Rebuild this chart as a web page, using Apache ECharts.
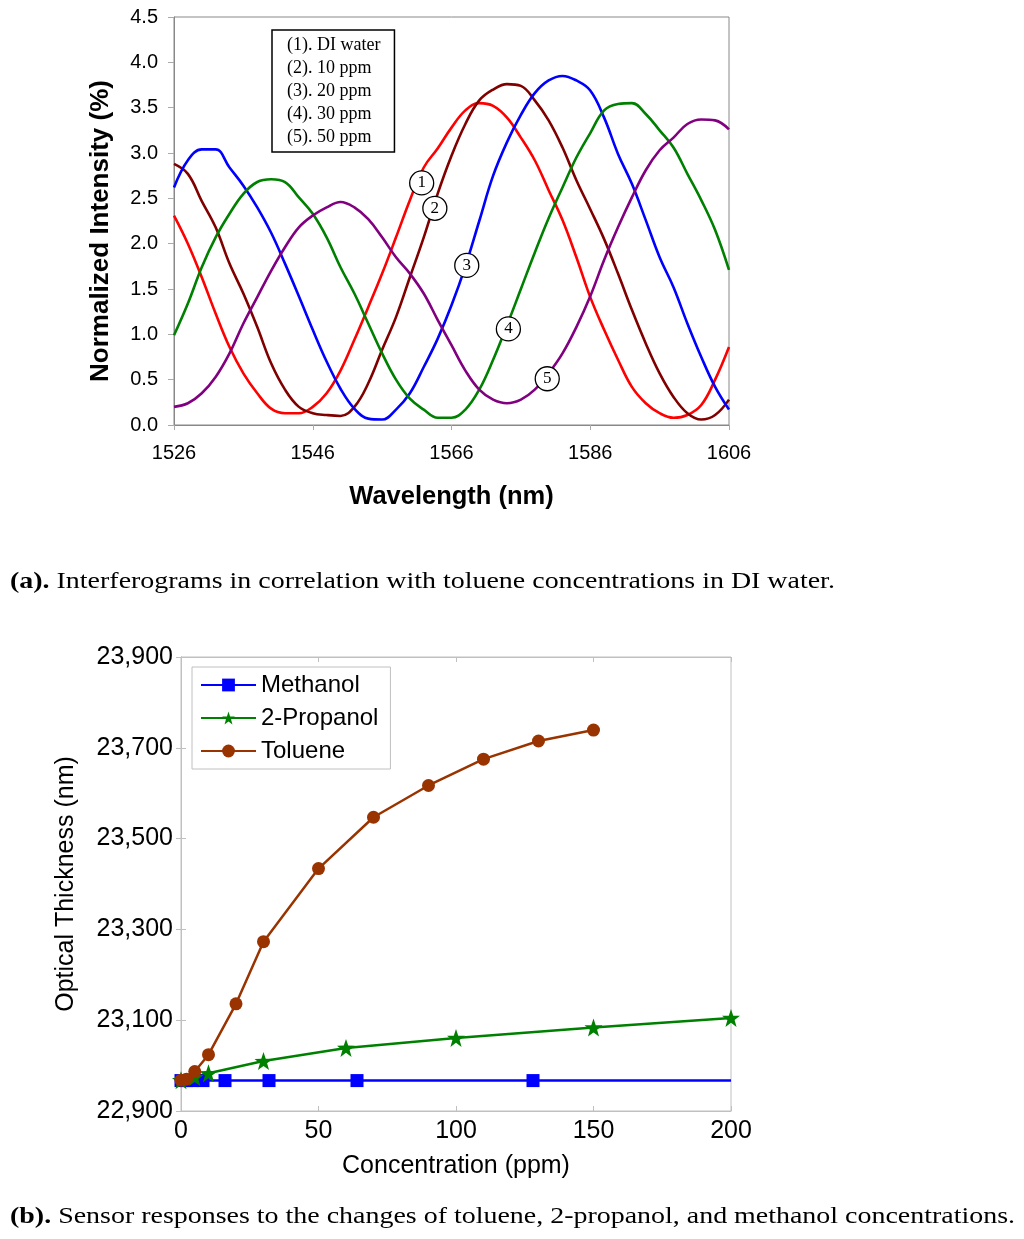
<!DOCTYPE html>
<html>
<head>
<meta charset="utf-8">
<script src="https://cdn.jsdelivr.net/npm/echarts@6/dist/echarts.min.js"></script>
<style>
html,body{margin:0;padding:0;background:#fff;}
#chart{position:absolute;left:0;top:0;width:1024px;height:1239px;}
.cap{position:absolute;left:10px;font-family:"Liberation Serif","Times New Roman",serif;font-size:23px;color:#000;white-space:nowrap;
  transform:scaleX(1.215);transform-origin:0 50%;}
</style>
</head>
<body>
<div id="chart"></div>
<div class="cap" style="top:568px"><b>(a).</b> Interferograms in correlation with toluene concentrations in DI water.</div>
<div class="cap" style="top:1203px"><b>(b).</b> Sensor responses to the changes of toluene, 2-propanol, and methanol concentrations.</div>
<script>
// (a) interferograms, read every 2 nm
var wavelength = [1526,1528,1530,1532,1534,1536,1538,1540,1542,1544,1546,1548,1550,1552,1554,1556,1558,1560,1562,1564,
  1566,1568,1570,1572,1574,1576,1578,1580,1582,1584,1586,1588,1590,1592,1594,1596,1598,1600,1602,1604,1606];
var diWater = [2.31,2.00,1.63,1.23,0.86,0.57,0.35,0.18,0.13,0.13,0.20,0.35,0.60,0.94,1.30,1.67,2.07,2.48,2.84,3.05,
  3.28,3.47,3.55,3.52,3.39,3.17,2.92,2.59,2.26,1.85,1.41,1.05,0.72,0.42,0.24,0.13,0.08,0.11,0.22,0.50,0.86];
var ppm10 = [2.88,2.77,2.47,2.18,1.78,1.45,1.08,0.68,0.39,0.20,0.13,0.11,0.10,0.20,0.46,0.83,1.19,1.63,2.07,2.55,
  2.97,3.32,3.58,3.70,3.76,3.74,3.58,3.36,3.06,2.70,2.38,2.05,1.67,1.27,0.90,0.57,0.31,0.13,0.06,0.11,0.28];
var ppm20 = [2.62,2.92,3.04,3.04,2.84,2.64,2.40,2.12,1.78,1.42,1.05,0.70,0.40,0.18,0.07,0.06,0.17,0.35,0.64,0.95,
  1.32,1.75,2.25,2.75,3.12,3.42,3.66,3.80,3.85,3.80,3.69,3.39,2.99,2.66,2.26,1.85,1.52,1.12,0.75,0.42,0.17];
var ppm30 = [0.99,1.34,1.74,2.07,2.33,2.55,2.68,2.71,2.68,2.51,2.33,2.07,1.74,1.45,1.12,0.79,0.50,0.29,0.17,0.08,
  0.08,0.17,0.39,0.72,1.10,1.50,1.90,2.28,2.62,2.95,3.22,3.47,3.54,3.55,3.43,3.25,3.06,2.77,2.48,2.15,1.71];
var ppm50 = [0.20,0.24,0.35,0.53,0.79,1.12,1.41,1.70,1.96,2.18,2.31,2.40,2.46,2.40,2.27,2.07,1.85,1.67,1.45,1.16,
  0.88,0.60,0.39,0.28,0.24,0.28,0.39,0.57,0.79,1.08,1.42,1.82,2.18,2.51,2.81,3.03,3.17,3.32,3.37,3.36,3.26];
var curveNames = ['(1). DI water','(2). 10 ppm','(3). 20 ppm','(4). 30 ppm','(5). 50 ppm'];
// numbered tags on the curves, in data units [nm, %]
var tagAt = [[1561.7,2.67],[1563.6,2.39],[1568.2,1.76],[1574.2,1.06],[1579.8,0.51]];
var waveTicks = [1526,1546,1566,1586,1606];

// (b) optical thickness vs concentration
var methanolX = [0,2,4,8,16,32,64,128,200];
var methanolY = [22967,22967,22967,22967,22967,22967,22967,22967,22967];
var propanolX = [0,5,10,30,60,100,150,200];
var propanolY = [22968,22975,22983,23010,23039,23061,23084,23105];
var tolueneX = [0,2,5,10,20,30,50,70,90,110,130,150];
var tolueneY = [22968,22970,22987,23024,23136,23273,23434,23547,23617,23675,23715,23739];
var thickTicks = [22900,23100,23300,23500,23700,23900];

var sans = '"Liberation Sans", Arial, sans-serif';
var serif = '"Liberation Serif", "Times New Roman", serif';
var curveColors = ['#ff0000','#800000','#0000ff','#008000','#800080'];
var curves = [diWater, ppm10, ppm20, ppm30, ppm50];
var star = 'path://M0,-10L2.35,-3.24L9.51,-3.09L3.8,1.24L5.88,8.09L0,4L-5.88,8.09L-3.8,1.24L-9.51,-3.09L-2.35,-3.24Z';

function pairs(xs, ys) {
  return xs.map(function (x, i) { return [x, ys[i]]; });
}
function comma(v) {
  return String(v).replace(/\B(?=(\d{3})+(?!\d))/g, ',');
}

var series = curves.map(function (ys, k) {
  return {
    name: curveNames[k],
    type: 'line',
    xAxisIndex: 0, yAxisIndex: 0,
    data: pairs(wavelength, ys),
    showSymbol: false,
    smooth: 0.4,
    lineStyle: { color: curveColors[k], width: 2.6 },
    itemStyle: { color: curveColors[k] },
    markPoint: {
      symbol: 'circle',
      symbolSize: 24,
      itemStyle: { color: '#fff', borderColor: '#000', borderWidth: 1.3 },
      label: { show: true, color: '#000', fontFamily: serif, fontSize: 17, formatter: String(k + 1) },
      data: [{ coord: tagAt[k] }]
    },
    z: 2
  };
});

var methanolData = pairs(methanolX, methanolY);
methanolData[methanolData.length - 1] = { value: methanolData[methanolData.length - 1], symbol: 'none' };

series.push({
  name: 'Methanol', type: 'line', xAxisIndex: 1, yAxisIndex: 1,
  data: methanolData, symbol: 'rect', symbolSize: 13,
  lineStyle: { color: '#0000ff', width: 2.5 }, itemStyle: { color: '#0000ff' }
});
series.push({
  name: '2-Propanol', type: 'line', xAxisIndex: 1, yAxisIndex: 1,
  data: pairs(propanolX, propanolY), symbol: star, symbolSize: 18,
  lineStyle: { color: '#008000', width: 2.5 }, itemStyle: { color: '#008000' }
});
series.push({
  name: 'Toluene', type: 'line', xAxisIndex: 1, yAxisIndex: 1,
  data: pairs(tolueneX, tolueneY), symbol: 'circle', symbolSize: 13,
  lineStyle: { color: '#993300', width: 2.5 }, itemStyle: { color: '#993300' }
});

var myChart = echarts.init(document.getElementById('chart'));
var option = {
  animation: false,
  backgroundColor: '#fff',
  grid: [
    { left: 174, top: 17, width: 555, height: 408, show: true, borderColor: '#888', borderWidth: 1 },
    { left: 181, top: 657, width: 550, height: 454, show: true, borderColor: '#c0c0c0', borderWidth: 1 }
  ],
  legend: [
    {
      data: curveNames, orient: 'vertical', left: 272, top: 30,
      icon: 'none', itemWidth: 0, itemHeight: 18, itemGap: 5,
      padding: [6, 14, 6, 10],
      borderColor: '#000', borderWidth: 1.5,
      textStyle: { fontFamily: serif, fontSize: 18, color: '#000' },
      selectedMode: false
    },
    {
      data: ['Methanol', '2-Propanol', 'Toluene'], orient: 'vertical', left: 192, top: 667,
      itemWidth: 55, itemHeight: 16, itemGap: 9,
      padding: [6, 12, 6, 8],
      borderColor: '#c0c0c0', borderWidth: 1,
      textStyle: { fontFamily: sans, fontSize: 24, color: '#000' },
      selectedMode: false
    }
  ],
  xAxis: [
    {
      gridIndex: 0, type: 'value', min: 1526, max: 1606,
      axisLine: { show: true, lineStyle: { color: '#888' } },
      axisTick: { show: true, length: 5, lineStyle: { color: '#aaa' }, customValues: waveTicks },
      axisLabel: { customValues: waveTicks, margin: 18, fontFamily: sans, fontSize: 20, color: '#000',
        formatter: function (v) { return String(v); } },
      splitLine: { show: false },
      name: 'Wavelength (nm)', nameLocation: 'middle', nameGap: 59,
      nameTextStyle: { fontFamily: sans, fontSize: 25.5, fontWeight: 'bold', color: '#000' }
    },
    {
      gridIndex: 1, type: 'value', min: 0, max: 200, interval: 50,
      axisLine: { show: true, lineStyle: { color: '#c0c0c0' } },
      axisTick: { show: true, inside: true, length: 5, lineStyle: { color: '#c0c0c0' } },
      axisLabel: { margin: 8, fontFamily: sans, fontSize: 25, color: '#000' },
      splitLine: { show: false },
      name: 'Concentration (ppm)', nameLocation: 'middle', nameGap: 43,
      nameTextStyle: { fontFamily: sans, fontSize: 25, color: '#000' }
    },
    {
      gridIndex: 1, type: 'value', min: 0, max: 200, interval: 50, position: 'top',
      axisLine: { show: true, lineStyle: { color: '#c0c0c0' } },
      axisTick: { show: true, inside: true, length: 5, lineStyle: { color: '#c0c0c0' } },
      axisLabel: { show: false }, splitLine: { show: false }
    }
  ],
  yAxis: [
    {
      gridIndex: 0, type: 'value', min: 0, max: 4.5, interval: 0.5,
      axisLine: { show: true, lineStyle: { color: '#888' } },
      axisTick: { show: true, length: 6, lineStyle: { color: '#aaa' } },
      axisLabel: { margin: 16, fontFamily: sans, fontSize: 20, color: '#000',
        formatter: function (v) { return v.toFixed(1); } },
      splitLine: { show: false },
      name: 'Normalized Intensity (%)', nameLocation: 'middle', nameGap: 60,
      nameTextStyle: { fontFamily: sans, fontSize: 26, fontWeight: 'bold', color: '#000', padding: [0, 20, 0, 0] }
    },
    {
      gridIndex: 1, type: 'value', min: 22900, max: 23900,
      axisLine: { show: true, lineStyle: { color: '#c0c0c0' } },
      axisTick: { show: true, inside: true, length: 5, lineStyle: { color: '#c0c0c0' }, customValues: thickTicks },
      axisLabel: { customValues: thickTicks, margin: 8, fontFamily: sans, fontSize: 25, color: '#000', formatter: comma },
      splitLine: { show: false },
      name: 'Optical Thickness (nm)', nameLocation: 'middle', nameGap: 102,
      nameTextStyle: { fontFamily: sans, fontSize: 25, color: '#000' }
    },
    {
      gridIndex: 1, type: 'value', min: 22900, max: 23900, position: 'right',
      axisLine: { show: true, lineStyle: { color: '#c0c0c0' } },
      axisTick: { show: true, inside: true, length: 5, lineStyle: { color: '#c0c0c0' }, customValues: thickTicks },
      axisLabel: { show: false }, splitLine: { show: false }
    }
  ],
  series: series
};
myChart.setOption(option);
</script>
</body>
</html>
